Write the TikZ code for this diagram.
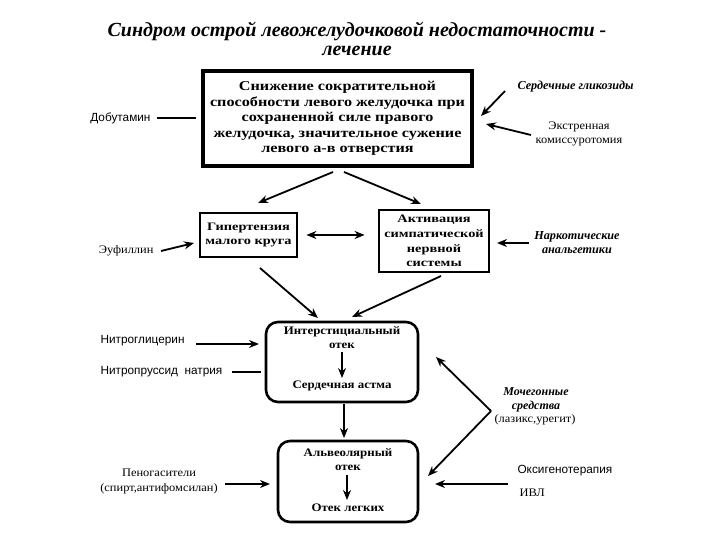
\documentclass[tikz,border=0pt]{standalone}
\usepackage{fontspec}
\setmainfont{Liberation Serif}
\setsansfont{Liberation Sans}
\newfontfamily\mainboxfont[FakeStretch=1.2]{Liberation Serif}
\newfontfamily\boxfont[FakeStretch=1.12]{Liberation Serif}
\newfontfamily\wideboxfont[FakeStretch=1.26]{Liberation Serif}
\newfontfamily\labfont[FakeStretch=1.08]{Liberation Serif}
\usetikzlibrary{arrows.meta,calc}
\begin{document}
\begin{tikzpicture}[x=1pt,y=-1pt,
  arr/.style={line width=1.8pt,-{Stealth[length=10pt,width=8pt]}},
  plain/.style={line width=1.8pt},
  bigbox/.style={draw,line width=3.2pt,minimum width=269pt,minimum height=95pt,inner sep=0pt},
  sbox/.style={draw,line width=2.8pt,inner sep=0pt},
  rbox/.style={draw,line width=2.6pt,rounded corners=12pt,inner sep=0pt},
  btxt/.style={font=\mainboxfont\bfseries\fontsize{13.5}{15.5}\selectfont,align=center},
  stxt/.style={font=\wideboxfont\bfseries\fontsize{11.4}{14.5}\selectfont,align=center},
  lab/.style={font=\sffamily\fontsize{11.8}{13}\selectfont},
  slab/.style={font=\labfont\fontsize{11.5}{13.5}\selectfont,align=center},
  ilab/.style={font=\bfseries\itshape\fontsize{12.2}{14}\selectfont,align=center},
  intxt/.style={font=\boxfont\bfseries\fontsize{11.5}{14}\selectfont,align=center,inner sep=0pt}
]
\useasboundingbox (0,0) rectangle (720,540);
\fill[white] (0,0) rectangle (720,540);

% title
\node[font=\bfseries\itshape\fontsize{20}{19}\selectfont,align=center] (title) at (357,39)
  {Синдром острой левожелудочковой недостаточности -\\лечение};

% main box
\node[bigbox] (main) at (337.5,118.5) {};
\node[btxt] (maintxt) at (337.5,118.5) {Снижение сократительной\\способности левого желудочка при\\сохраненной силе правого\\желудочка, значительное сужение\\левого а-в отверстия};

\node[lab,anchor=east] (dob) at (154,118) {Добутамин};
\coordinate (dobE) at (196,118);
\draw[plain] (dob.east) ++(3,0) -- (dobE);

\node[ilab,anchor=west] (serd) at (514,87) {Сердечные гликозиды};
\coordinate (serdT) at (505,91);
\coordinate (serdH) at (481,116);
\draw[arr] (serdT) -- (serdH);

\node[slab] (ekst) at (579,134) {Экстренная\\комиссуротомия};
\coordinate (ekstT) at (531,135);
\coordinate (ekstH) at (486,124);
\draw[arr] (ekstT) -- (ekstH);

% second row
\node[sbox,minimum width=97pt,minimum height=44pt] (gip) at (248.5,235) {};
\node[stxt] (giptxt) at (248.5,235) {Гипертензия\\малого круга};
\node[sbox,minimum width=110pt,minimum height=62pt] (akt) at (434,241) {};
\node[stxt,font=\wideboxfont\bfseries\fontsize{11.4}{14.7}\selectfont] (akttxt) at (434,241) {Активация\\симпатической\\нервной\\системы};

\coordinate (apexL) at (333,172);
\coordinate (apexR) at (344,172);
\draw[arr] (apexL) -- (258,203);
\draw[arr] (apexR) -- (421,204);

\draw[line width=1.8pt,{Stealth[length=10pt,width=8pt]}-{Stealth[length=10pt,width=8pt]}] (gip.east) ++(8,0) -- ($(akt.west)+(-13,-6)$);

\node[slab,anchor=east] (euf) at (157,251) {Эуфиллин};
\draw[arr] (euf.east) ++(4,0) -- (194,243);

\node[ilab] (nark) at (577,243) {Наркотические\\анальгетики};
\draw[arr] (nark.west) ++(-2,0) -- (497,243);

% interstitial box
\node[rbox,minimum width=152pt,minimum height=80pt] (inter) at (342,362) {};
\node[intxt] (intTop) at (342,338) {Интерстициальный\\отек};
\node[intxt] (intBot) at (342,386) {Сердечная астма};
\draw[arr,line width=1.4pt] (342,352) -- (342,378);

\draw[arr] (260,268) -- (318,318);
\draw[arr] (441,276) -- (352,317);

\node[lab,anchor=west] (nitro) at (97,341) {Нитроглицерин};
\draw[arr] (nitro.east) ++(8,3) -- (259,344);
\node[lab,anchor=west] (nprus) at (97,372) {Нитропруссид\ \ натрия};
\draw[plain] (nprus.east) ++(6,0) -- (261,372);

\draw[arr] (344,404) -- (344,438);

% alveolar box
\node[rbox,minimum width=140pt,minimum height=81pt] (alv) at (348,481.5) {};
\node[intxt] (alvTop) at (348,460) {Альвеолярный\\отек};
\node[intxt] (alvBot) at (348,508) {Отек легких};
\draw[arr,line width=1.4pt] (347,475) -- (347,500);

\node[slab,font=\labfont\fontsize{11.5}{15}\selectfont] (peno) at (159,481) {Пеногасители\\(спирт,антифомсилан)};
\draw[arr] (225,484) -- (270,484);

\node[lab,anchor=west] (oksi) at (514,471) {Оксигенотерапия};
\node[slab,anchor=west] (ivl) at (516,493) {ИВЛ};
\draw[arr] (508,484) -- (435,484);

\node[ilab,font=\bfseries\itshape\fontsize{12}{14}\selectfont] (moch) at (536,400) {Мочегонные\\средства};
\node[slab,font=\labfont\fontsize{11.5}{12}\selectfont] (lazix) at (535,420) {(лазикс,урегит)};
\coordinate (junc) at (491,411);
\draw[arr] (junc) -- (436,357);
\draw[arr] (junc) -- (428,476);
\end{tikzpicture}
\end{document}
